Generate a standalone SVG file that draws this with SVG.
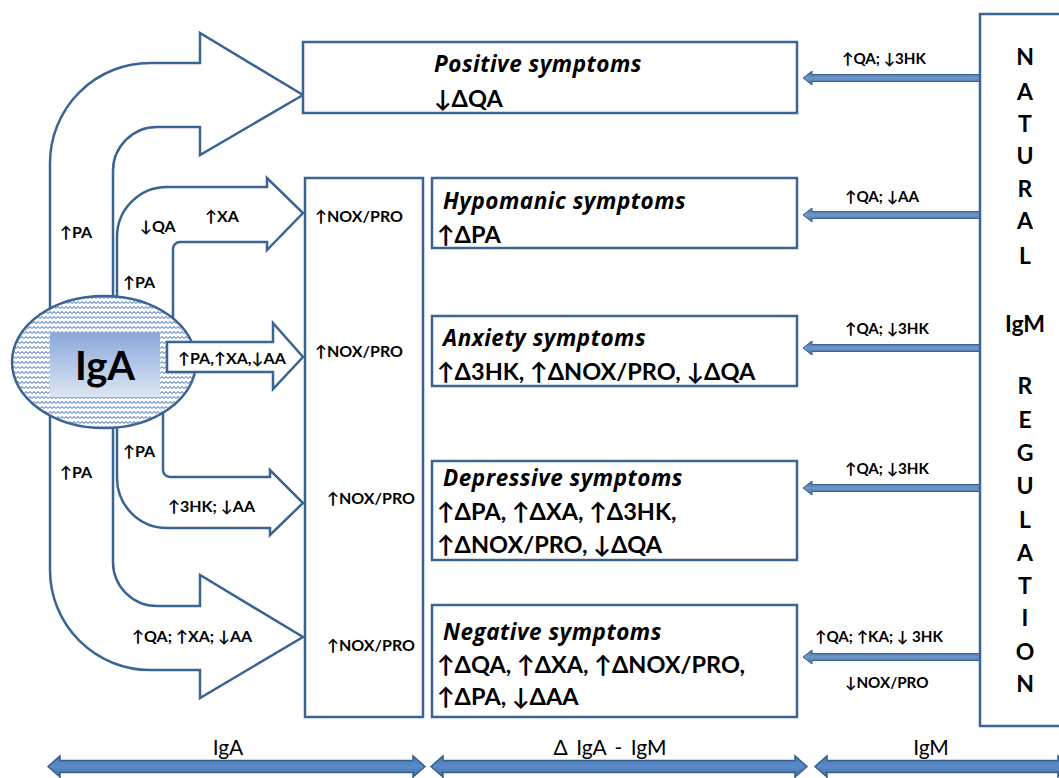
<svg xmlns="http://www.w3.org/2000/svg" width="1059" height="778" viewBox="0 0 1059 778">
<style>
.ln{fill:#fff;stroke:#3b6493;stroke-width:2.5;stroke-linejoin:miter}
.box{fill:#fff;stroke:#3b6493;stroke-width:2.5}
.t{font-family:Lato,"Liberation Sans",sans-serif;fill:#000}
.lb{font-family:Lato,"Liberation Sans",sans-serif;font-weight:bold;font-size:16px;fill:#000}
.rl{font-family:Lato,"Liberation Sans",sans-serif;font-weight:bold;font-size:15.2px;fill:#000}
.ti{font-family:"Open Sans",Lato,sans-serif;font-weight:bold;font-style:italic;font-size:22.5px;letter-spacing:0.5px;fill:#000}
.tv{font-family:Lato,"Liberation Sans",sans-serif;font-weight:bold;font-size:23.5px;fill:#000}
.nat{font-family:Lato,"Liberation Sans",sans-serif;font-weight:bold;font-size:23px;fill:#000;text-anchor:middle}
.bt{font-family:Lato,"Liberation Sans",sans-serif;font-size:21px;fill:#000;text-anchor:middle}
.ra{fill:url(#rg);stroke:#3a6190;stroke-width:1}
.ba{fill:url(#bg);stroke:#385d8a;stroke-width:1.5}
</style>
<defs>
<pattern id="wave" width="8" height="5" patternUnits="userSpaceOnUse">
<rect width="8" height="5" fill="#fff"/>
<path d="M0,3.5 L2,1.5 L4,3.5 L6,1.5 L8,3.5" fill="none" stroke="#7f9dd0" stroke-width="1.1"/>
</pattern>
<linearGradient id="ig" x1="0" y1="0" x2="0" y2="1">
<stop offset="0" stop-color="#8ba8da"/>
<stop offset="1" stop-color="#dce6f3"/>
</linearGradient>
<linearGradient id="rg" x1="0" y1="0" x2="0" y2="1">
<stop offset="0" stop-color="#3a6594"/>
<stop offset="0.5" stop-color="#6f98cc"/>
<stop offset="1" stop-color="#3a6594"/>
</linearGradient>
<linearGradient id="bg" x1="0" y1="0" x2="0" y2="1">
<stop offset="0" stop-color="#4a7cba"/>
<stop offset="0.5" stop-color="#5a8bc8"/>
<stop offset="1" stop-color="#41709f"/>
</linearGradient>
</defs>

<g id="connectors">
<path class="ln" d="M303,95 L200,155 L200,127 L157,127 A44,44 0 0 0 113,171 L113,562 A44,44 0 0 0 157,606 L200,606 L200,575 L303,637 L200,698 L200,670 L150,670 A100,100 0 0 1 50,570 L50,163 A100,100 0 0 1 150,63 L200,63 L200,33 Z"/>
<path class="ln" d="M117,330 L117,237 A50,50 0 0 1 167,187 L267,187 L267,178 L303,213 L267,250 L267,242 L180,242 A7,7 0 0 0 173,249 L173,330 Z"/>
<path class="ln" d="M117,400 L117,478 A50,50 0 0 0 167,528 L270,528 L270,535 L303,503 L270,470 L270,477 L170,477 A7,7 0 0 1 163,470 L163,400 Z"/>
<path class="ra" d="M980,74.5 L812,74.5 L812,71 L803,78 L812,85 L812,81.5 L980,81.5 Z"/>
<path class="ra" d="M980,211.5 L812,211.5 L812,208 L803,215 L812,222 L812,218.5 L980,218.5 Z"/>
<path class="ra" d="M980,344.5 L812,344.5 L812,341 L803,348 L812,355 L812,351.5 L980,351.5 Z"/>
<path class="ra" d="M980,484.5 L812,484.5 L812,481 L803,488 L812,495 L812,491.5 L980,491.5 Z"/>
<path class="ra" d="M980,653.5 L812,653.5 L812,650 L803,657 L812,664 L812,660.5 L980,660.5 Z"/>
<path class="ba" d="M48,766.5 L60,756 L60,760.5 L413,760.5 L413,756 L425,766.5 L413,777 L413,772.5 L60,772.5 L60,777 Z"/>
<path class="ba" d="M431,766.5 L443,756 L443,760.5 L795,760.5 L795,756 L807,766.5 L795,777 L795,772.5 L443,772.5 L443,777 Z"/>
<path class="ba" d="M815,766.5 L827,756 L827,760.5 L1058,760.5 L1058,756 L1070,766.5 L1058,777 L1058,772.5 L827,772.5 L827,777 Z"/>
</g>

<g id="iga">
<ellipse cx="104" cy="362" rx="92" ry="66" fill="url(#wave)" stroke="#3b6493" stroke-width="2.5"/>
<rect x="50" y="333" width="110" height="64" fill="url(#ig)"/>
<text class="t" x="105" y="380" font-size="40" font-weight="bold" text-anchor="middle">IgA</text>
</g>

<g id="anxiety-arrow">
<path class="ln" d="M167,342 L273,342 L273,323 L303,357 L273,389 L273,372 L167,372 Z"/>
</g>

<g id="left-labels">
<text class="lb" x="60" y="238">↑PA</text>
<text class="lb" x="140" y="232">↓QA</text>
<text class="lb" x="205" y="222">↑XA</text>
<text class="lb" x="123" y="288">↑PA</text>
<text class="lb" x="178" y="364">↑PA,↑XA,↓AA</text>
<text class="lb" x="123" y="457">↑PA</text>
<text class="lb" x="60" y="478">↑PA</text>
<text class="lb" x="168" y="512">↑3HK; ↓AA</text>
<text class="lb" x="132" y="642">↑QA; ↑XA; ↓AA</text>
</g>

<g id="positive">
<rect class="box" x="303" y="42" width="494" height="71"/>
<text class="ti" x="434" y="72">Positive symptoms</text>
<text class="tv" x="434" y="107">↓ΔQA</text>
</g>

<g id="noxpro">
<rect class="box" x="305" y="178" width="118" height="539"/>
<text class="lb" x="315" y="222">↑NOX/PRO</text>
<text class="lb" x="315" y="357">↑NOX/PRO</text>
<text class="lb" x="327" y="504">↑NOX/PRO</text>
<text class="lb" x="327" y="651">↑NOX/PRO</text>
</g>

<g id="hypomanic">
<rect class="box" x="432" y="178" width="365" height="70"/>
<text class="ti" x="443" y="209">Hypomanic symptoms</text>
<text class="tv" x="437" y="243">↑ΔPA</text>
</g>

<g id="anxiety">
<rect class="box" x="432" y="316" width="365" height="70"/>
<text class="ti" x="443" y="346">Anxiety symptoms</text>
<text class="tv" x="437" y="380">↑Δ3HK, ↑ΔNOX/PRO, ↓ΔQA</text>
</g>

<g id="depressive">
<rect class="box" x="432" y="461" width="365" height="99"/>
<text class="ti" x="443" y="486">Depressive symptoms</text>
<text class="tv" x="437" y="520">↑ΔPA, ↑ΔXA, ↑Δ3HK,</text>
<text class="tv" x="437" y="553">↑ΔNOX/PRO, ↓ΔQA</text>
</g>

<g id="negative">
<rect class="box" x="432" y="605" width="365" height="112"/>
<text class="ti" x="443" y="640">Negative symptoms</text>
<text class="tv" x="437" y="673">↑ΔQA, ↑ΔXA, ↑ΔNOX/PRO,</text>
<text class="tv" x="437" y="705">↑ΔPA, ↓ΔAA</text>
</g>

<g id="natural-regulation">
<rect class="box" x="980" y="14" width="90" height="712"/>
<text class="nat" x="1025" y="65">N</text>
<text class="nat" x="1025" y="100">A</text>
<text class="nat" x="1025" y="132">T</text>
<text class="nat" x="1025" y="164">U</text>
<text class="nat" x="1025" y="197">R</text>
<text class="nat" x="1025" y="229">A</text>
<text class="nat" x="1025" y="264">L</text>
<text class="nat" x="1025" y="332" font-size="28">IgM</text>
<text class="nat" x="1025" y="394">R</text>
<text class="nat" x="1025" y="428">E</text>
<text class="nat" x="1025" y="461">G</text>
<text class="nat" x="1025" y="494">U</text>
<text class="nat" x="1025" y="528">L</text>
<text class="nat" x="1025" y="561">A</text>
<text class="nat" x="1025" y="594">T</text>
<text class="nat" x="1025" y="626">I</text>
<text class="nat" x="1025" y="660">O</text>
<text class="nat" x="1025" y="692">N</text>
</g>

<g id="right-labels">
<text class="rl" x="842" y="64">↑QA; ↓3HK</text>
<text class="rl" x="845" y="202">↑QA; ↓AA</text>
<text class="rl" x="845" y="334">↑QA; ↓3HK</text>
<text class="rl" x="845" y="474">↑QA; ↓3HK</text>
<text class="rl" x="815" y="642">↑QA; ↑KA; ↓ 3HK</text>
<text class="rl" x="845" y="688">↓NOX/PRO</text>
</g>

<g id="bottom-labels">
<text class="bt" x="228" y="755">IgA</text>
<text class="bt" x="610" y="755" font-size="22" word-spacing="3">Δ IgA - IgM</text>
<text class="bt" x="931" y="755">IgM</text>
</g>
</svg>
